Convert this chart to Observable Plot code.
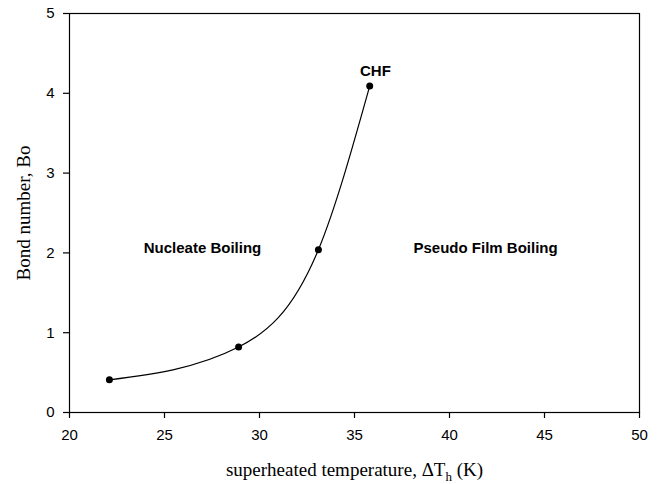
<!DOCTYPE html>
<html>
<head>
<meta charset="utf-8">
<script src="https://cdn.jsdelivr.net/npm/d3@7"></script>
<script src="https://cdn.jsdelivr.net/npm/@observablehq/plot@0.6"></script>
<style>
  html, body { margin: 0; padding: 0; background: #fff; }
  #chart svg { display: block; }
</style>
</head>
<body>
<div id="chart"></div>
<script>
// Data
const superheat = [22.1, 28.9, 33.1, 35.8];   // ΔT_h (K)
const bond = [0.41, 0.82, 2.04, 4.09];        // Bond number, Bo
const xTicks = [20, 25, 30, 35, 40, 45, 50];
const yTicks = [0, 1, 2, 3, 4, 5];
const labelText = ["Nucleate Boiling", "Pseudo Film Boiling", "CHF"];
const labelX = [27.0, 41.9, 36.1];
const labelY = [2.06, 2.06, 4.28];
const xTitle = "superheated temperature, ΔT";
const xTitleSub = "h";
const xTitleEnd = " (K)";
const yTitle = "Bond number, Bo";

const points = superheat.map((x, i) => ({x, y: bond[i]}));
const labels = labelText.map((t, i) => ({t, x: labelX[i], y: labelY[i]}));

const sans = "Arial, 'Liberation Sans', sans-serif";
const serif = "'Times New Roman', 'Liberation Serif', serif";

const chart = Plot.plot({
  width: 659,
  height: 484,
  marginLeft: 69,
  marginRight: 20,
  marginTop: 13,
  marginBottom: 72,
  style: {background: "#fff", color: "#000", fontFamily: sans, fontSize: "15px"},
  x: {domain: [20, 50]},
  y: {domain: [0, 5]},
  marks: [
    Plot.frame({stroke: "#000", strokeWidth: 1.2}),
    Plot.axisX({ticks: xTicks, tickFormat: d => String(d), tickSize: 6, tickPadding: 11, label: null, stroke: "#000", strokeWidth: 1.2, fontSize: 15}),
    Plot.axisY({ticks: yTicks, tickFormat: d => String(d), tickSize: 6, tickPadding: 9, label: null, stroke: "#000", strokeWidth: 1.2, fontSize: 15}),
    Plot.line(points, {x: "x", y: "y", curve: "monotone-x", stroke: "#000", strokeWidth: 1.2}),
    Plot.dot(points, {x: "x", y: "y", r: 3.5, fill: "#000", stroke: "none"}),
    Plot.text(labels, {x: "x", y: "y", text: "t", fontWeight: "bold", fontSize: 15, fontFamily: sans, fill: "#000", textAnchor: "middle", lineAnchor: "middle"}),
    Plot.text([xTitle + xTitleSub + xTitleEnd], {frameAnchor: "bottom", dy: 63, lineAnchor: "bottom", textAnchor: "middle", fontFamily: serif, fontSize: 19, fill: "#000"}),
    Plot.text([yTitle], {frameAnchor: "left", dx: -40, rotate: -90, lineAnchor: "bottom", textAnchor: "middle", fontFamily: serif, fontSize: 19, fill: "#000"})
  ]
});

document.getElementById("chart").appendChild(chart);

// Rebuild the x title with a real subscript
d3.select(chart).selectAll("text").each(function () {
  if (this.textContent === xTitle + xTitleSub + xTitleEnd) {
    const t = d3.select(this);
    t.text(null);
    t.append("tspan").text(xTitle);
    t.append("tspan").attr("dy", 5).attr("font-size", 13).text(xTitleSub);
    t.append("tspan").attr("dy", -5).text(xTitleEnd);
  }
});
</script>
</body>
</html>
